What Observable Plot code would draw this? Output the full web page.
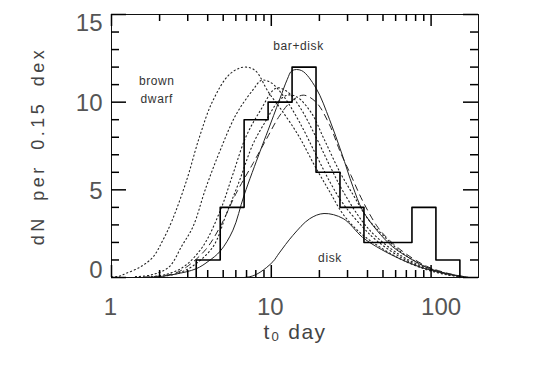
<!DOCTYPE html>
<html><head><meta charset="utf-8">
<script src="https://cdn.jsdelivr.net/npm/d3@7"></script>
<script src="https://cdn.jsdelivr.net/npm/@observablehq/plot@0.6"></script>
<style>body{margin:0;background:#fff}</style>
</head><body><div id="chart"></div>
<script>
// Histogram (0.15 dex bins), bin edges in days
const binEdges = [3.39, 4.79, 6.76, 9.55, 13.49, 19.05, 26.9, 38.0, 53.7, 75.9, 107.2, 151.4];
const binCounts = [1, 4, 9, 10, 12, 6, 4, 2, 2, 4, 1];

// Model curves: log10(t0 / day) and dN per 0.15 dex
const barDiskLogT = [0.20, 0.30, 0.40, 0.53, 0.61, 0.68, 0.76, 0.83, 0.93, 0.98, 1.05, 1.10, 1.13, 1.19, 1.28, 1.365, 1.44, 1.51, 1.57, 1.66, 1.76, 1.87, 1.99, 2.12, 2.23];
const barDiskN    = [0.01, 0.05, 0.19, 0.5, 0.95, 1.5, 2.7, 4.7, 7.2, 8.4, 10.1, 11.3, 11.8, 11.8, 10.8, 9.0, 7.1, 5.2, 3.85, 2.7, 1.75, 1.08, 0.51, 0.19, 0.02];

const diskLogT = [0.83, 0.88, 0.93, 1.01, 1.05, 1.135, 1.24, 1.33, 1.45, 1.57, 1.66, 1.78, 1.93, 2.07, 2.2];
const diskN    = [0.0, 0.08, 0.3, 0.9, 1.4, 2.4, 3.35, 3.65, 3.36, 2.3, 1.75, 1.17, 0.6, 0.26, 0.03];

const dashedLogT = [0.2, 0.30, 0.40, 0.47, 0.59, 0.68, 0.78, 0.885, 0.97, 1.05, 1.12, 1.2, 1.28, 1.365, 1.43, 1.5, 1.57, 1.66, 1.72, 1.82, 1.97, 2.1, 2.22];
const dashedN    = [0.02, 0.08, 0.25, 0.6, 1.6, 2.9, 4.8, 6.5, 7.9, 9.2, 10.0, 10.4, 10.0, 8.7, 7.2, 5.8, 4.4, 2.95, 2.3, 1.5, 0.65, 0.25, 0.02];

const bd1LogT = [0.0, 0.05, 0.09, 0.18, 0.26, 0.32, 0.38, 0.47, 0.55, 0.635, 0.74, 0.83, 0.9, 0.98, 1.06, 1.17, 1.27, 1.365, 1.45, 1.55, 1.66, 1.82, 1.97, 2.1, 2.2];
const bd1N    = [0.03, 0.08, 0.23, 0.6, 1.17, 2.1, 3.27, 5.54, 8.0, 10.1, 11.6, 12.0, 11.8, 10.6, 9.6, 8.1, 6.4, 4.9, 3.6, 2.6, 1.85, 1.0, 0.45, 0.15, 0.03];

const bd2LogT = [0.15, 0.25, 0.36, 0.44, 0.51, 0.59, 0.68, 0.78, 0.885, 0.94, 1.0, 1.08, 1.18, 1.28, 1.37, 1.45, 1.57, 1.66, 1.82, 1.97, 2.1, 2.2];
const bd2N    = [0.05, 0.15, 0.6, 1.8, 2.9, 5.1, 7.25, 9.3, 10.7, 11.25, 11.1, 10.3, 8.8, 7.0, 5.4, 4.2, 2.9, 2.1, 1.1, 0.5, 0.17, 0.03];

const bd3LogT = [0.25, 0.35, 0.45, 0.57, 0.68, 0.76, 0.84, 0.93, 1.03, 1.1, 1.18, 1.28, 1.37, 1.45, 1.57, 1.66, 1.82, 1.97, 2.1, 2.2];
const bd3N    = [0.05, 0.2, 0.6, 1.75, 3.8, 5.9, 8.0, 9.5, 10.8, 10.6, 9.7, 8.0, 6.3, 4.9, 3.2, 2.3, 1.2, 0.55, 0.2, 0.03];

const bd4LogT = [0.3, 0.4, 0.5, 0.635, 0.72, 0.8, 0.885, 0.97, 1.04, 1.1, 1.16, 1.25, 1.33, 1.43, 1.52, 1.6, 1.7, 1.82, 1.97, 2.1, 2.2];
const bd4N    = [0.05, 0.2, 0.6, 1.75, 3.65, 5.5, 7.6, 9.0, 10.0, 10.4, 10.3, 9.4, 7.9, 6.0, 4.6, 3.4, 2.4, 1.4, 0.6, 0.22, 0.03];

// Annotations
const noteText = ["brown", "dwarf", "bar+disk", "disk"];
const noteT    = [1.92, 1.92, 14.8, 23.3];
const noteN    = [11.2, 10.2, 13.2, 1.13];

// Axis ticks and labels
const xMajor = [1, 10, 100];
const xMinor = [2, 3, 4, 5, 6, 7, 8, 9, 20, 30, 40, 50, 60, 70, 80, 90];
const yMajor = [0, 5, 10, 15];
const yMinor = [1, 2, 3, 4, 6, 7, 8, 9, 11, 12, 13, 14];
const xTitle = "t\u2080 day";
const yTitle = "dN per 0.15 dex";

const W = 540, H = 380, ML = 111, MR = 62, MT = 14, MB = 103;
const FW = W - ML - MR, FH = H - MT - MB;

const rows = (lt, n) => lt.map((l, i) => ({t: Math.pow(10, l), n: n[i]}));
const hist = [{t: binEdges[0], n: 0}]
  .concat(binCounts.map((c, i) => ({t: binEdges[i], n: c})))
  .concat([{t: binEdges[binEdges.length - 1], n: binCounts[binCounts.length - 1]},
           {t: binEdges[binEdges.length - 1], n: 0}]);
const notes = noteText.map((s, i) => ({s, t: noteT[i], n: noteN[i]}));

const ink = "#000";
const curveStroke = "#222";
const dotted = {stroke: curveStroke, strokeWidth: 1.1, strokeDasharray: "1.2,2.8", curve: "catmull-rom"};
const tickFont = {fontSize: 24, fill: "#555"};
const tickStyle = {stroke: ink, strokeWidth: 1.5};

const chart = Plot.plot({
  width: W, height: H,
  marginLeft: ML, marginRight: MR, marginTop: MT, marginBottom: MB,
  x: {type: "log", domain: [1, 198]},
  y: {domain: [0, 15]},
  style: {fontFamily: "'Liberation Sans', 'DejaVu Sans', sans-serif", background: "#fff", color: "#222"},
  marks: [
    // brown dwarf models (dotted)
    Plot.line(rows(bd1LogT, bd1N), {x: "t", y: "n", ...dotted}),
    Plot.line(rows(bd2LogT, bd2N), {x: "t", y: "n", ...dotted}),
    Plot.line(rows(bd3LogT, bd3N), {x: "t", y: "n", ...dotted}),
    Plot.line(rows(bd4LogT, bd4N), {x: "t", y: "n", ...dotted}),
    // dashed model
    Plot.line(rows(dashedLogT, dashedN), {x: "t", y: "n", stroke: curveStroke, strokeWidth: 1, strokeDasharray: "6,5", curve: "catmull-rom"}),
    // bar+disk and disk (solid)
    Plot.line(rows(barDiskLogT, barDiskN), {x: "t", y: "n", stroke: curveStroke, strokeWidth: 1, curve: "catmull-rom"}),
    Plot.line(rows(diskLogT, diskN), {x: "t", y: "n", stroke: curveStroke, strokeWidth: 1, curve: "catmull-rom"}),
    // observed histogram
    Plot.line(hist, {x: "t", y: "n", curve: "step-after", stroke: "#000", strokeWidth: 1.6}),
    // annotations
    Plot.text(notes, {x: "t", y: "n", text: "s", fontSize: 12, fill: "#333"}),
    // frame
    Plot.frame({stroke: "#111"}),
    // inward ticks on all four sides
    Plot.tickX(xMajor, {x: d => d, insetTop: FH - 12, ...tickStyle}),
    Plot.tickX(xMinor, {x: d => d, insetTop: FH - 7, ...tickStyle}),
    Plot.tickX(xMajor, {x: d => d, insetBottom: FH - 12, ...tickStyle}),
    Plot.tickX(xMinor, {x: d => d, insetBottom: FH - 7, ...tickStyle}),
    Plot.tickY(yMajor, {y: d => d, insetRight: FW - 15, ...tickStyle}),
    Plot.tickY(yMinor, {y: d => d, insetRight: FW - 8, ...tickStyle}),
    Plot.tickY(yMajor, {y: d => d, insetLeft: FW - 15, ...tickStyle}),
    Plot.tickY(yMinor, {y: d => d, insetLeft: FW - 8, ...tickStyle}),
    // tick labels
    Plot.axisX([1, 10], {anchor: "bottom", tickSize: 0, tickPadding: 20, label: null, ...tickFont, dx: -1}),
    Plot.axisX([100], {anchor: "bottom", tickSize: 0, tickPadding: 20, label: null, ...tickFont, dx: 10}),
    Plot.axisY([0], {anchor: "left", tickSize: 0, tickPadding: 9, label: null, ...tickFont, dy: -7}),
    Plot.axisY([5, 10], {anchor: "left", tickSize: 0, tickPadding: 9, label: null, ...tickFont, dy: 1.5}),
    Plot.axisY([15], {anchor: "left", tickSize: 0, tickPadding: 9, label: null, ...tickFont, dy: 8.5}),
    // axis titles
    Plot.text([xTitle], {frameAnchor: "bottom", dy: 61, fontSize: 21, fill: "#444"}),
    Plot.text([yTitle], {frameAnchor: "left", textAnchor: "middle", dx: -73, rotate: -90, fontSize: 18, fill: "#444"})
  ]
});
// wider letter spacing to mimic the vector font of the original
d3.select(chart).selectAll("text").each(function () {
  const s = this.textContent;
  if (s === yTitle) { this.style.letterSpacing = "3.5px"; this.style.wordSpacing = "6px"; }
  else if (s === xTitle) { this.style.letterSpacing = "1.5px"; }
  else if (noteText.includes(s)) { this.style.letterSpacing = "0.6px"; }
});
document.getElementById("chart").appendChild(chart);
</script>
</body></html>
